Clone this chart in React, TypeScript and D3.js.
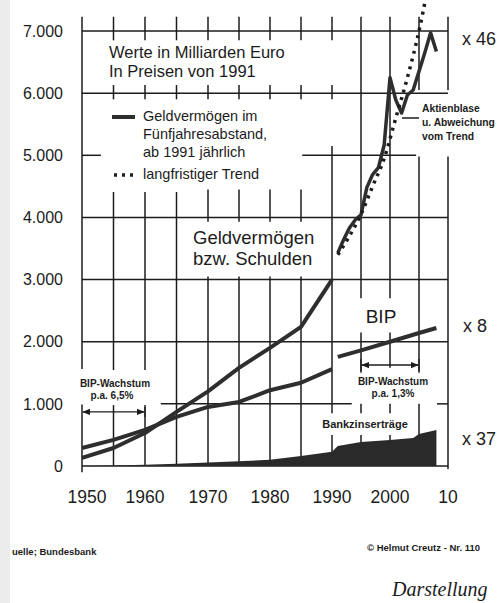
import React from "react";
import * as d3 from "d3";

// Geldvermögen im Fünfjahresabstand (Mrd. Euro, Preise von 1991)
const years5 = [1950, 1955, 1960, 1965, 1970, 1975, 1980, 1985, 1990];
const geldvermoegen5 = [130, 290, 530, 870, 1200, 1580, 1900, 2240, 3000];
const bip5 = [290, 420, 580, 790, 950, 1030, 1220, 1340, 1560];

// ab 1991 jährlich
const yearsAnnual = [
  1991, 1992, 1993, 1994, 1995, 1996, 1997, 1998, 1999, 2000, 2001, 2002,
  2003, 2004, 2005, 2006, 2007, 2008,
];
const geldvermoegenAnnual = [
  3430, 3640, 3830, 3960, 4040, 4480, 4690, 4800, 5170, 6250, 5890, 5680,
  5970, 6050, 6350, 6650, 6970, 6670,
];
const bipYears2 = [1991, 1995, 2000, 2005, 2008];
const bip2 = [1755, 1860, 2000, 2140, 2220];

// langfristiger Trend
const trendYears = [1991, 1993, 1995, 1997, 1999, 2001, 2003, 2005, 2006];
const trendValues = [3400, 3700, 4050, 4500, 4950, 5600, 6250, 7000, 7450];

// Bankzinserträge
const zinsYears = [
  1950, 1955, 1960, 1965, 1970, 1975, 1980, 1985, 1990, 1991, 1995, 2000,
  2004, 2005, 2008,
];
const zinsValues = [
  0, 10, 20, 35, 55, 75, 100, 160, 230, 320, 385, 420, 450, 515, 580,
];

const yTicks = [0, 1000, 2000, 3000, 4000, 5000, 6000, 7000];
const yTickLabels = ["0", "1.000", "2.000", "3.000", "4.000", "5.000", "6.000", "7.000"];
const xTicks = [1950, 1960, 1970, 1980, 1990, 2000, 2010];
const xTickLabels = ["1950", "1960", "1970", "1980", "1990", "2000", "10"];

const FONT = "'Liberation Sans', Arial, Helvetica, sans-serif";
const INK = "#1c1c1c";

export default function App() {
  const x = d3.scaleLinear().domain([1950, 1970, 1990, 2010]).range([82, 208, 332, 448]);
  const y = d3.scaleLinear().domain([0, 7000]).range([466, 31]);

  // grid pieces (the scan has them broken where text sits)
  const vSpans: [number, number[][]][] = [
    [1950, [[7230, 1560], [990, -100]]],
    [1955, [[7230, 6850], [6130, 5900], [4410, 1545], [980, 0]]],
    [1960, [[7230, 6850], [6130, 5900], [4410, 1545], [980, 0]]],
    [1965, [[7230, 6850], [6130, 5900], [4410, 0]]],
    [1970, [[7230, 6850], [6130, 5900], [4450, 3930], [3050, 0]]],
    [1975, [[7230, 6850], [6130, 5900], [4450, 3930], [3050, 0]]],
    [1980, [[7230, 6850], [6130, 5900], [4450, 3930], [3050, 0]]],
    [1985, [[7230, 6850], [6130, 5900], [4450, 3930], [3050, 0]]],
    [1990, [[7230, 6850], [6130, 5900], [5150, 850], [500, 0]]],
    [1995, [[7230, 2700], [2150, 1500], [1000, 850], [500, 0]]],
    [2000, [[7230, 2700], [2150, 1580], [1000, 850], [500, 0]]],
    [2005, [[7230, 6050], [4980, 1500], [1000, 0]]],
    [2010, [[7230, 6050], [4980, -50]]],
  ];
  const hSpans: [number, number[][]][] = [
    [7000, [[1950, 2010]]],
    [6000, [[1950, 2010]]],
    [5000, [[1950, 1953], [1985.2, 2004.5]]],
    [4000, [[1950, 2010]]],
    [3000, [[1950, 2010]]],
    [2000, [[1950, 2010]]],
    [1000, [[1962.5, 1993.4], [2008.1, 2010]]],
    [0, [[1950, 2010]]],
  ];

  const line = d3
    .line<[number, number]>()
    .x((d) => x(d[0]))
    .y((d) => y(d[1]));
  const trendLine = d3
    .line<[number, number]>()
    .x((d) => x(d[0]))
    .y((d) => y(d[1]))
    .curve(d3.curveMonotoneX);
  const area = d3
    .area<[number, number]>()
    .x((d) => x(d[0]))
    .y0(y(0))
    .y1((d) => y(d[1]));

  const geld1 = years5.map((yr, i) => [yr, geldvermoegen5[i]] as [number, number]);
  const bipA = years5.map((yr, i) => [yr, bip5[i]] as [number, number]);
  const geld2 = yearsAnnual.map((yr, i) => [yr, geldvermoegenAnnual[i]] as [number, number]);
  const bipB = bipYears2.map((yr, i) => [yr, bip2[i]] as [number, number]);
  const trend = trendYears.map((yr, i) => [yr, trendValues[i]] as [number, number]);
  const zins = zinsYears.map((yr, i) => [yr, zinsValues[i]] as [number, number]);

  const dataLine = { fill: "none", stroke: "#2e2e2e", strokeWidth: 4, strokeLinejoin: "round" as const };

  return (
    <div style={{ position: "absolute", left: 0, top: 0 }}>
      <svg width={498} height={603} style={{ display: "block", background: "#fff" }}>
        <defs>
          <marker id="arr" viewBox="0 0 10 10" refX="9" refY="5" markerWidth="6" markerHeight="6" orient="auto-start-reverse">
            <path d="M0,1 L10,5 L0,9 z" fill={INK} />
          </marker>
        </defs>
        <rect x={0} y={0} width={10} height={603} fill="#ececec" />

        {/* grid */}
        <g stroke={INK} strokeWidth={1.5}>
          {vSpans.map(([yr, spans]) =>
            spans.map((s, i) => (
              <line key={`v${yr}-${i}`} x1={x(yr)} x2={x(yr)} y1={y(s[0])} y2={y(s[1])} />
            )),
          )}
          {hSpans.map(([v, spans]) =>
            spans.map((s, i) => (
              <line key={`h${v}-${i}`} x1={x(s[0])} x2={x(s[1])} y1={y(v)} y2={y(v)} />
            )),
          )}
        </g>

        {/* Bankzinserträge */}
        <path d={area(zins) || ""} fill="#2a2a2a" />

        {/* BIP and Geldvermögen */}
        <path d={line(bipA) || ""} {...dataLine} />
        <path d={line(bipB) || ""} {...dataLine} />
        <path d={line(geld1) || ""} {...dataLine} />
        <path d={line(geld2) || ""} {...dataLine} strokeWidth={3.5} />
        <path d={trendLine(trend) || ""} fill="none" stroke={INK} strokeWidth={3.5} strokeDasharray="3,5" />

        {/* Wachstum arrows */}
        <g stroke={INK} strokeWidth={1.3}>
          <line x1={x(1950) + 1} x2={x(1960) - 1} y1={y(870)} y2={y(870)} markerStart="url(#arr)" markerEnd="url(#arr)" />
          <line x1={x(1960)} x2={x(1960)} y1={y(870) - 5} y2={y(870) + 5} />
          <line x1={x(1995) + 1} x2={x(2005) - 1} y1={y(1625)} y2={y(1625)} markerStart="url(#arr)" markerEnd="url(#arr)" />
          <line x1={x(1995)} x2={x(1995)} y1={y(1625) - 6} y2={y(1625) + 6} />
          <line x1={x(2005)} x2={x(2005)} y1={y(1625) - 6} y2={y(1625) + 6} />
        </g>

        {/* axes labels */}
        <g fontFamily={FONT} fill={INK}>
          {yTicks.map((v, i) => (
            <text key={v} x={63} y={y(v)} dy="0.36em" textAnchor="end" fontSize={16}>
              {yTickLabels[i]}
            </text>
          ))}
          {xTicks.map((yr, i) => (
            <text key={yr} x={x(yr) + (i === 0 ? 5 : 0)} y={503} textAnchor="middle" fontSize={17.5}>
              {xTickLabels[i]}
            </text>
          ))}

          {/* legend box */}
          <text x={109} y={58} fontSize={16.5}>Werte in Milliarden Euro</text>
          <text x={109} y={77} fontSize={16.5}>In Preisen von 1991</text>
          <line x1={112} x2={135} y1={117} y2={117} stroke="#2e2e2e" strokeWidth={4} />
          <text x={143} y={121} fontSize={14.5}>Geldvermögen im</text>
          <text x={143} y={139} fontSize={14.5}>Fünfjahresabstand,</text>
          <text x={143} y={157} fontSize={14.5}>ab 1991 jährlich</text>
          <line x1={114} x2={138} y1={175} y2={175} stroke={INK} strokeWidth={3.5} strokeDasharray="3,5" />
          <text x={143} y={179} fontSize={14.5}>langfristiger Trend</text>

          <text x={193} y={244} fontSize={18.5}>Geldvermögen</text>
          <text x={193} y={265} fontSize={18.5}>bzw. Schulden</text>

          <text x={381} y={323} fontSize={19} textAnchor="middle">BIP</text>

          <text x={422} y={112} fontSize={10.3} fontWeight="bold">Aktienblase</text>
          <text x={422} y={126} fontSize={10.3} fontWeight="bold">u. Abweichung</text>
          <text x={422} y={140} fontSize={10.3} fontWeight="bold">vom Trend</text>
          <line x1={402} x2={419} y1={118} y2={118} stroke={INK} strokeWidth={1.5} />

          <text x={115} y={387} fontSize={10} fontWeight="bold" textAnchor="middle">BIP-Wachstum</text>
          <text x={112} y={399} fontSize={10} fontWeight="bold" textAnchor="middle">p.a. 6,5%</text>
          <text x={393} y={385} fontSize={10} fontWeight="bold" textAnchor="middle">BIP-Wachstum</text>
          <text x={393} y={397} fontSize={10} fontWeight="bold" textAnchor="middle">p.a. 1,3%</text>

          <text x={365} y={428} fontSize={11} fontWeight="bold" textAnchor="middle">Bankzinserträge</text>

          <text x={462} y={45} fontSize={18}>x 46</text>
          <text x={463} y={332} fontSize={18}>x 8</text>
          <text x={462} y={445} fontSize={18}>x 37</text>

          <text x={12} y={555} fontSize={9.5} fontWeight="bold">uelle; Bundesbank</text>
          <text x={367} y={551} fontSize={9.5} fontWeight="bold">© Helmut Creutz - Nr. 110</text>
          <text x={392} y={596} fontSize={20} fontStyle="italic" fontFamily="'Liberation Serif', 'Times New Roman', serif">
            Darstellung
          </text>
        </g>
      </svg>
    </div>
  );
}
